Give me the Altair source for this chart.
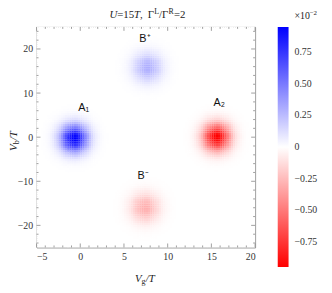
import altair as alt
import numpy as np
import pandas as pd

# Peaks (centre x, centre y, amplitude in 1e-2, width x, width y)
peak_names = ["A1", "A2", "B+", "B-"]
peak_x = [-0.7, 15.6, 7.7, 7.4]
peak_y = [-0.3, 0.0, 15.8, -16.0]
peak_amp = [0.95, -0.95, 0.30, -0.30]
peak_wx = [1.1, 1.1, 1.15, 1.15]
peak_wy = [2.2, 2.2, 2.3, 2.3]

# Labels of the peaks
label_text = ["A₁", "A₂", "B⁺", "B⁻"]
label_x = [0.4, 15.9, 7.4, 7.2]
label_y = [6.7, 7.8, 22.3, -8.9]

x_major = [-5, 0, 5, 10, 15, 20]
x_minor = [v for v in range(-5, 21) if v % 5 != 0]
y_major = [-20, -10, 0, 10, 20]
y_minor = [v for v in range(-24, 25, 2) if v % 10 != 0]
legend_values = [-0.75, -0.5, -0.25, 0, 0.25, 0.5, 0.75]

W, H = 222, 224
xs = np.arange(-5, 20, 0.25)
ys = np.arange(-25, 25, 0.5)
gx, gy = np.meshgrid(xs + 0.125, ys + 0.25)
z = np.zeros_like(gx)
for cx, cy, a, wx, wy in zip(peak_x, peak_y, peak_amp, peak_wx, peak_wy):
    z += a * np.exp(-((gx - cx) ** 2) / (2 * wx ** 2) - ((gy - cy) ** 2) / (2 * wy ** 2))
z = np.round(z, 5)
grid = pd.DataFrame({
    "x": (gx - 0.125).ravel(), "x2": (gx + 0.14).ravel(),
    "y": (gy - 0.25).ravel(), "y2": (gy + 0.27).ravel(),
    "z": z.ravel(),
})

xscale = alt.Scale(domain=[-5, 20], nice=False, zero=False)
yscale = alt.Scale(domain=[-25, 25], nice=False, zero=False)
cscale = alt.Scale(domain=[-0.95, 0, 0.95], range=["#ff0000", "#ffffff", "#0000ff"],
                   interpolate="rgb", nice=False, zero=False)
SERIF = "Liberation Serif"
minus_expr = "datum.value == 0 ? '0' : replace(format(datum.value, '.2f'), '-', '\u2212')"
tick_expr = "replace(format(datum.value, 'd'), '-', '\u2212')"

heat = alt.Chart(grid).mark_rect(strokeWidth=0).encode(
    x=alt.X("x:Q", scale=xscale, axis=alt.Axis(values=x_major, ticks=False, domain=False, grid=False,
                                               labelFont=SERIF, labelFontSize=10, labelColor="#333",
                                               labelPadding=4, labelExpr=tick_expr, title=None)),
    x2="x2:Q",
    y=alt.Y("y:Q", scale=yscale, axis=alt.Axis(values=y_major, ticks=False, domain=False, grid=False,
                                               labelFont=SERIF, labelFontSize=10, labelColor="#333",
                                               labelPadding=4, labelExpr=tick_expr, title=None)),
    y2="y2:Q",
    color=alt.Color("z:Q", scale=cscale, legend=alt.Legend(
        orient="none", legendX=245, legendY=0, direction="vertical", title=None,
        gradientLength=244, gradientThickness=11, gradientStrokeWidth=0,
        values=legend_values, labelExpr=minus_expr, labelFont=SERIF, labelFontSize=10,
        labelColor="#333", labelOffset=6, padding=0, offset=0)),
)

def rules(vals, axis, length):
    df = pd.DataFrame({"v": vals})
    base = alt.Chart(df).mark_rule(color="#888", strokeWidth=0.8)
    if axis == "x":
        return (base.encode(x=alt.X("v:Q", scale=xscale), y=alt.value(H), y2=alt.value(H - length))
                + base.encode(x=alt.X("v:Q", scale=xscale), y=alt.value(0), y2=alt.value(length)))
    return (base.encode(y=alt.Y("v:Q", scale=yscale), x=alt.value(0), x2=alt.value(length))
            + base.encode(y=alt.Y("v:Q", scale=yscale), x=alt.value(W), x2=alt.value(W - length)))

labels = alt.Chart(pd.DataFrame({"t": label_text, "x": label_x, "y": label_y})).mark_text(
    font="Liberation Sans", fontSize=11, color="#111").encode(
    x=alt.X("x:Q", scale=xscale), y=alt.Y("y:Q", scale=yscale), text="t:N")

def txt(s, x, y, size=11, style="normal", angle=0, align="left"):
    return alt.Chart(pd.DataFrame({"t": [s]})).mark_text(
        font=SERIF, fontSize=size, fontStyle=style, angle=angle, align=align,
        baseline="alphabetic", color="#222").encode(
        x=alt.value(x), y=alt.value(y), text="t:N")

TY = -9
annot = [
    # x title  V_g/T
    txt("V", 100, 259, style="italic"), txt("g", 106.5, 261, size=8), txt("/T", 111, 259, style="italic"),
    # y title  V_b/T
    txt("V", -20, 126, style="italic", angle=270), txt("b", -18, 119.3, size=8, angle=270),
    txt("/T", -20, 115, style="italic", angle=270),
    # title  U=15T,  Γ^L/Γ^R=2
    txt("U", 74, TY, style="italic"), txt("=15", 82, TY), txt("T", 99, TY, style="italic"),
    txt(",", 105, TY), txt("Γ", 113, TY), txt("L", 119.5, TY - 4, size=8), txt("/Γ", 124.5, TY),
    txt("R", 134, TY - 4, size=8), txt("=2", 139.5, TY),
    # colorbar exponent
    txt("×10", 262, -8, size=10), txt("−2", 277.5, -12, size=7),
]

chart = alt.layer(heat, rules(x_major, "x", 4), rules(x_minor, "x", 2),
                  rules(y_major, "y", 4), rules(y_minor, "y", 2), labels, *annot).properties(
    width=W, height=H, autosize="none",
    padding={"left": 29, "top": 17, "right": 70, "bottom": 40},
).configure_view(stroke="#888", strokeWidth=1)

chart.save("out.html", embed_options={"renderer": "svg", "actions": False})
